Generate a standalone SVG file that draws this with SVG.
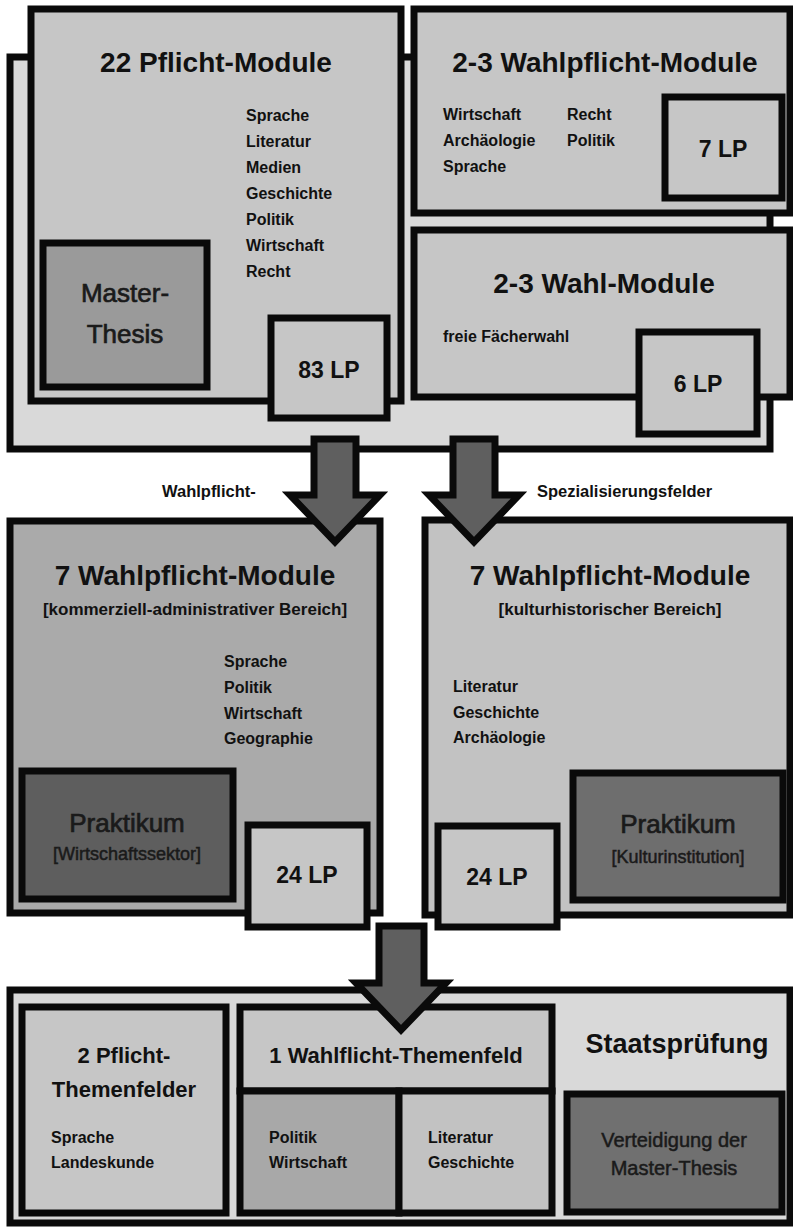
<svg xmlns="http://www.w3.org/2000/svg" width="793" height="1228" viewBox="0 0 793 1228">
<style>
  .box{stroke:#0a0a0a;stroke-width:7;stroke-linejoin:miter}
  .bg{fill:#d9d9d9}
  .lt{fill:#c6c6c6}
  .md{fill:#aaaaaa}
  .mt{fill:#9a9a9a}
  .dk{fill:#5e5e5e}
  .dk2{fill:#6e6e6e}
  .arrow{fill:#5f5f5f;stroke:#0a0a0a;stroke-width:7;stroke-linejoin:miter}
  text{font-family:"Liberation Sans",Arial,sans-serif;fill:#111}
  .t28{font-size:28px;font-weight:bold;text-anchor:middle}
  .t22{font-size:22px;font-weight:bold;text-anchor:middle}
  .lp{font-size:23px;font-weight:bold;text-anchor:middle}
  .li{font-size:16px;font-weight:bold}
  .sub{font-size:17px;font-weight:bold;text-anchor:middle}
  .lab{font-size:16.5px;font-weight:bold}
  .pr{font-size:26px;text-anchor:middle;fill:#1a1a1a;stroke:#1a1a1a;stroke-width:0.7}
  .prs{font-size:18px;text-anchor:middle;fill:#1a1a1a;stroke:#1a1a1a;stroke-width:0.5}
</style>

<g id="top-frame">
  <rect class="box bg" x="10" y="57" width="760" height="392"/>
</g>

<g id="pflicht-module">
  <rect class="box lt" x="31" y="9" width="370" height="392"/>
  <text class="t28" x="216" y="72">22 Pflicht-Module</text>
  <text class="li" x="246" y="121">Sprache</text>
  <text class="li" x="246" y="147">Literatur</text>
  <text class="li" x="246" y="173">Medien</text>
  <text class="li" x="246" y="199">Geschichte</text>
  <text class="li" x="246" y="225">Politik</text>
  <text class="li" x="246" y="251">Wirtschaft</text>
  <text class="li" x="246" y="277">Recht</text>
</g>
<g id="master-thesis">
  <rect class="box mt" x="43" y="243" width="164" height="144"/>
  <text class="pr" x="125" y="302">Master-</text>
  <text class="pr" x="125" y="343">Thesis</text>
</g>
<g id="lp-83">
  <rect class="box lt" x="271" y="318" width="116" height="100"/>
  <text class="lp" x="329" y="378">83 LP</text>
</g>

<g id="wahlpflicht-top">
  <rect class="box lt" x="414" y="9" width="376" height="204"/>
  <text class="t28" x="605" y="72">2-3 Wahlpflicht-Module</text>
  <text class="li" x="443" y="120">Wirtschaft</text>
  <text class="li" x="443" y="146">Archäologie</text>
  <text class="li" x="443" y="172">Sprache</text>
  <text class="li" x="567" y="120">Recht</text>
  <text class="li" x="567" y="146">Politik</text>
</g>
<g id="lp-7">
  <rect class="box lt" x="665" y="97" width="117" height="101"/>
  <text class="lp" x="723" y="157">7 LP</text>
</g>

<g id="wahl-module">
  <rect class="box lt" x="414" y="230" width="376" height="167"/>
  <text class="t28" x="604" y="293">2-3 Wahl-Module</text>
  <text class="li" x="443" y="342">freie Fächerwahl</text>
</g>
<g id="lp-6">
  <rect class="box lt" x="639" y="332" width="118" height="102"/>
  <text class="lp" x="698" y="392">6 LP</text>
</g>

<g id="labels">
  <text class="lab" x="162" y="497">Wahlpflicht-</text>
  <text class="lab" x="537" y="497">Spezialisierungsfelder</text>
</g>

<g id="wahlpflicht-kommerziell">
  <rect class="box md" x="10" y="521" width="370" height="392"/>
  <text class="t28" x="195" y="585">7 Wahlpflicht-Module</text>
  <text class="sub" x="195" y="615">[kommerziell-administrativer Bereich]</text>
  <text class="li" x="224" y="667">Sprache</text>
  <text class="li" x="224" y="693">Politik</text>
  <text class="li" x="224" y="719">Wirtschaft</text>
  <text class="li" x="224" y="744">Geographie</text>
</g>
<g id="praktikum-wirtschaft">
  <rect class="box dk" x="22" y="771" width="211" height="128"/>
  <text class="pr" x="127" y="832">Praktikum</text>
  <text class="prs" x="127" y="860">[Wirtschaftssektor]</text>
</g>
<g id="lp-24-left">
  <rect class="box lt" x="248" y="825" width="119" height="102"/>
  <text class="lp" x="307" y="883">24 LP</text>
</g>

<g id="wahlpflicht-kultur">
  <rect class="box" fill="#c2c2c2" x="425" y="520" width="365" height="395"/>
  <text class="t28" x="610" y="585">7 Wahlpflicht-Module</text>
  <text class="sub" x="610" y="615">[kulturhistorischer Bereich]</text>
  <text class="li" x="453" y="692">Literatur</text>
  <text class="li" x="453" y="718">Geschichte</text>
  <text class="li" x="453" y="743">Archäologie</text>
</g>
<g id="praktikum-kultur">
  <rect class="box dk2" x="573" y="773" width="210" height="127"/>
  <text class="pr" x="678" y="833">Praktikum</text>
  <text class="prs" x="678" y="863">[Kulturinstitution]</text>
</g>
<g id="lp-24-right">
  <rect class="box lt" x="438" y="826" width="119" height="101"/>
  <text class="lp" x="497" y="885">24 LP</text>
</g>

<g id="staatspruefung">
  <rect class="box bg" x="10" y="990" width="780" height="233"/>
  <text class="t28" x="677" y="1053" style="font-size:27px">Staatsprüfung</text>
</g>
<g id="pflicht-themenfelder">
  <rect class="box lt" x="22" y="1007" width="204" height="206"/>
  <text class="t22" x="124" y="1063">2 Pflicht-</text>
  <text class="t22" x="124" y="1097">Themenfelder</text>
  <text class="li" x="51" y="1143">Sprache</text>
  <text class="li" x="51" y="1168">Landeskunde</text>
</g>
<g id="wahlflicht-themenfeld">
  <rect class="box lt" x="240" y="1007" width="312" height="84"/>
  <text class="t22" x="396" y="1063">1 Wahlflicht-Themenfeld</text>
</g>
<g id="politik-wirtschaft">
  <rect class="box" fill="#a8a8a8" x="240" y="1091" width="159" height="122"/>
  <text class="li" x="269" y="1143">Politik</text>
  <text class="li" x="269" y="1168">Wirtschaft</text>
</g>
<g id="literatur-geschichte">
  <rect class="box" fill="#c2c2c2" x="399" y="1091" width="153" height="122"/>
  <text class="li" x="428" y="1143">Literatur</text>
  <text class="li" x="428" y="1168">Geschichte</text>
</g>
<g id="verteidigung">
  <rect class="box" fill="#707070" x="567" y="1094" width="215" height="118"/>
  <text class="prs" x="674" y="1147" style="font-size:20px">Verteidigung der</text>
  <text class="prs" x="674" y="1175" style="font-size:20px">Master-Thesis</text>
</g>

<g id="connectors">
  <polygon class="arrow" points="314,439 356,439 356,495 380,495 335,542 290,495 314,495"/>
  <polygon class="arrow" points="453,439 495,439 495,495 519,495 474,542 429,495 453,495"/>
  <polygon class="arrow" points="379,926 424,926 424,983 446,983 401,1030 356,983 379,983"/>
</g>
</svg>
